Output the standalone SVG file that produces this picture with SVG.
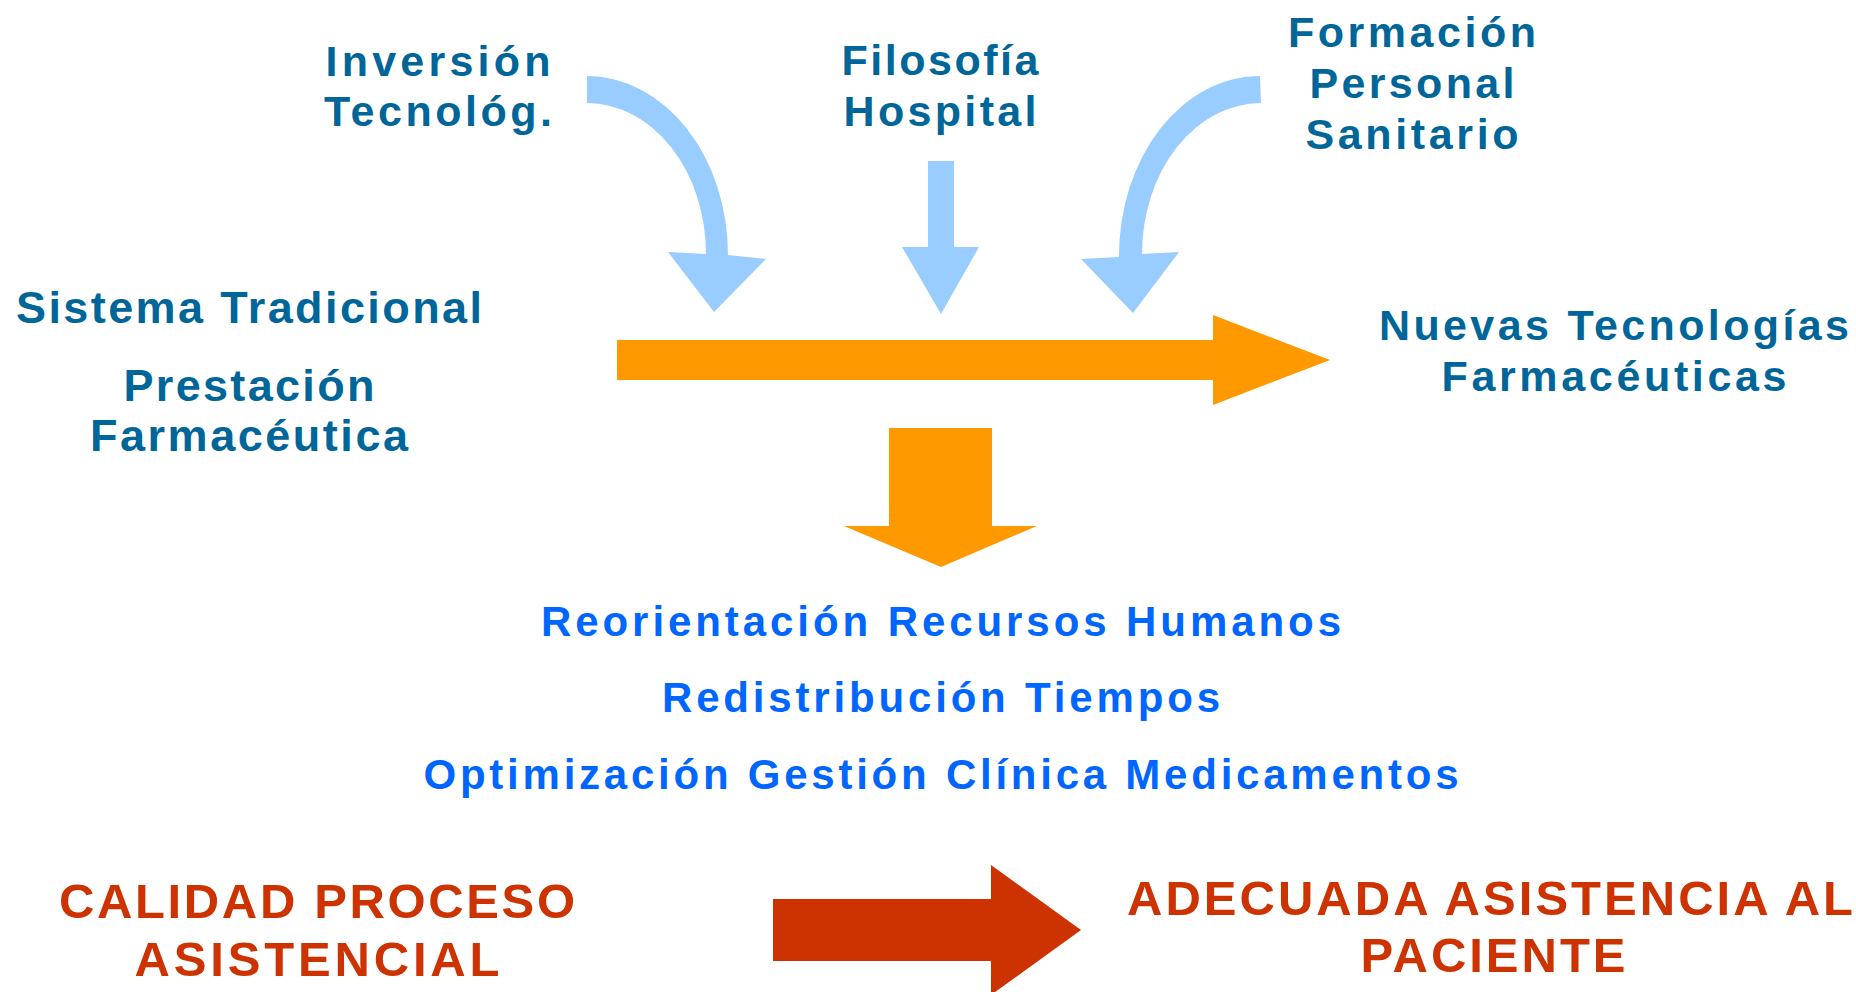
<svg xmlns="http://www.w3.org/2000/svg" width="1856" height="992" viewBox="0 0 1856 992">
<style>
text{font-family:"Liberation Sans",Arial,sans-serif;font-weight:bold;text-anchor:middle}
.dk{fill:#006699;font-size:43px}
.lt{fill:#006699;font-size:45px}
.mb{fill:#0066FF;font-size:42px}
.rd{fill:#CC3300;font-size:49px}
.lb{fill:#99CCFF}
.or{fill:#FF9900}
.re{fill:#CC3300}
</style>
<rect width="1856" height="992" fill="#FFFFFF"/>
<g id="connectors">
<path class="lb" d="M587,76 A141,179 0 0 1 728,255 L766,259 L714,312 L668,252 L706,254 A119,151 0 0 0 587,103 Z"/>
<polygon class="lb" points="928,161 954,161 954,247 979,247 941,314 902,247 928,247"/>
<path class="lb" d="M1260,76 A141,180 0 0 0 1119,257 L1081,259 L1133,313 L1179,252 L1142,254 A119,151 0 0 1 1261,103 Z"/>
<polygon class="or" points="617,340 1213,340 1213,315 1330,360 1213,405 1213,380 617,380"/>
<polygon class="or" points="889,428 992,428 992,526 1037,526 941,567 844,526 889,526"/>
<polygon class="re" points="773,899 991,899 991,865 1081,930 991,995 991,961 773,961"/>
</g>
<g id="inversion">
<text class="dk" x="438" y="76" textLength="225" lengthAdjust="spacing">Inversión</text>
<text class="dk" x="438" y="126" textLength="228" lengthAdjust="spacing">Tecnológ.</text>
</g>
<g id="filosofia">
<text class="dk" x="940" y="75" textLength="197" lengthAdjust="spacing">Filosofía</text>
<text class="dk" x="940" y="126" textLength="193" lengthAdjust="spacing">Hospital</text>
</g>
<g id="formacion">
<text class="dk" x="1412" y="47" textLength="248" lengthAdjust="spacing">Formación</text>
<text class="dk" x="1412" y="98" textLength="205" lengthAdjust="spacing">Personal</text>
<text class="dk" x="1412" y="149" textLength="213" lengthAdjust="spacing">Sanitario</text>
</g>
<g id="sistema">
<text class="lt" x="249" y="323" textLength="466" lengthAdjust="spacing">Sistema Tradicional</text>
<text class="lt" x="249" y="401" textLength="251" lengthAdjust="spacing">Prestación</text>
<text class="lt" x="249" y="451" textLength="318" lengthAdjust="spacing">Farmacéutica</text>
</g>
<g id="nuevas">
<text class="dk" x="1614" y="340" textLength="470" lengthAdjust="spacing">Nuevas Tecnologías</text>
<text class="dk" x="1614" y="391" textLength="345" lengthAdjust="spacing">Farmacéuticas</text>
</g>
<g id="resultados">
<text class="mb" x="941" y="636" textLength="800" lengthAdjust="spacing">Reorientación Recursos Humanos</text>
<text class="mb" x="941" y="712" textLength="558" lengthAdjust="spacing">Redistribución Tiempos</text>
<text class="mb" x="941" y="789" textLength="1035" lengthAdjust="spacing">Optimización Gestión Clínica Medicamentos</text>
</g>
<g id="calidad">
<text class="rd" x="317" y="918" textLength="516" lengthAdjust="spacing">CALIDAD PROCESO</text>
<text class="rd" x="317" y="976" textLength="365" lengthAdjust="spacing">ASISTENCIAL</text>
</g>
<g id="adecuada">
<text class="rd" x="1490" y="915" textLength="726" lengthAdjust="spacing">ADECUADA ASISTENCIA AL</text>
<text class="rd" x="1493" y="972" textLength="265" lengthAdjust="spacing">PACIENTE</text>
</g>
</svg>
